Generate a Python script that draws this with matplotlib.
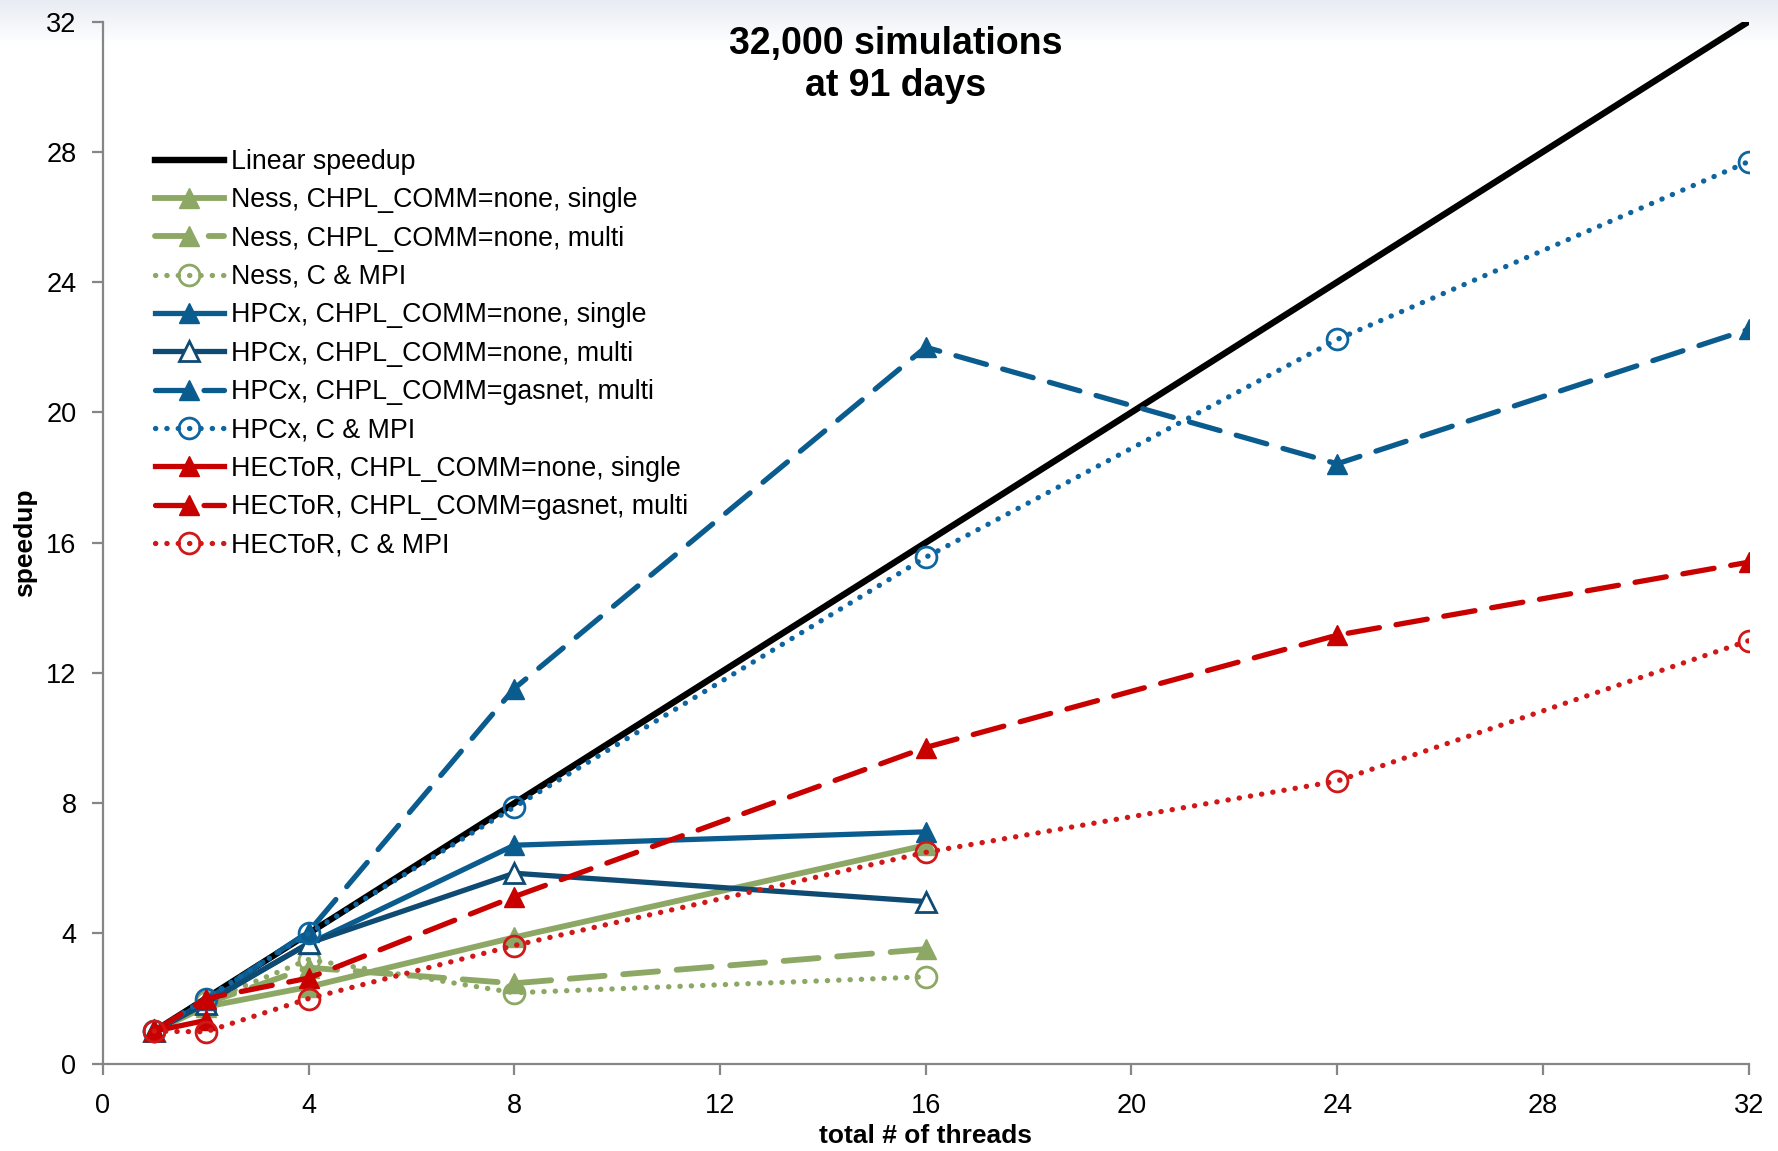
import numpy as np
import matplotlib
matplotlib.use("Agg")
import matplotlib.pyplot as plt

# data
threads_short = [1, 2, 4, 8, 16]
threads_long = [1, 2, 4, 8, 16, 24, 32]
threads_hector_single = [1, 2]
linear = [1, 32]

ness_single = [1, 1.75, 2.36, 3.88, 6.71]
ness_multi = [1, 1.85, 2.95, 2.47, 3.52]
ness_mpi = [1, 1.9, 3.2, 2.18, 2.67]

hpcx_single = [1, 1.9, 3.68, 6.71, 7.12]
hpcx_multi = [1, 1.85, 3.7, 5.85, 4.98]
hpcx_gasnet = [1, 1.95, 4.05, 11.52, 22.0, 18.42, 22.55]
hpcx_mpi = [1, 2.0, 4.0, 7.88, 15.55, 22.24, 27.7]

hector_single = [1, 1.33]
hector_gasnet = [1, 2.0, 2.63, 5.13, 9.71, 13.16, 15.4]
hector_mpi = [1, 0.98, 2.0, 3.63, 6.49, 8.68, 12.99]

plt.rcParams['font.family'] = ['Liberation Sans', 'DejaVu Sans']

green = '#8DA865'
blue = '#0B5C8E'
navy = '#0E4A72'
blue_dot = '#0F65A0'
red = '#C80000'
red_dot = '#D01818'

lw = 3.8
dash = (0, (6.0, 3.2))
dot = (0, (0.05, 2.1))
tri = 15
circ = 15

fig = plt.figure(figsize=(17.78, 11.51), dpi=100)

# faint bluish band along the top edge
band = fig.add_axes([0, 1 - 45 / 1151, 1, 45 / 1151], zorder=-5)
grad = np.linspace(0, 1, 50).reshape(-1, 1)
band.imshow(grad, aspect='auto', cmap=matplotlib.colors.LinearSegmentedColormap.from_list(
    'bg', ['#e8ecf3', '#ffffff']), extent=[0, 1, 0, 1])
band.axis('off')

ax = fig.add_axes([0.0578, 0.0758, 0.9257, 0.9055])
ax.set_facecolor('none')

ax.plot(linear, linear, color='black', lw=4.6, label='Linear speedup')

ax.plot(threads_short, ness_single, color=green, lw=lw + 0.4, marker='^', ms=tri,
        label='Ness, CHPL_COMM=none, single')
ax.plot(threads_short, ness_multi, color=green, lw=lw + 0.4, ls=dash, marker='^', ms=tri,
        dash_capstyle='round', label='Ness, CHPL_COMM=none, multi')
ax.plot(threads_short, ness_mpi, color=green, lw=lw, ls=dot, marker='o', ms=circ,
        mfc='none', mew=2, dash_capstyle='round', label='Ness, C & MPI')

ax.plot(threads_short, hpcx_single, color=blue, lw=lw, marker='^', ms=tri,
        label='HPCx, CHPL_COMM=none, single')
ax.plot(threads_short, hpcx_multi, color=navy, lw=lw, marker='^', ms=tri,
        mfc='white', mew=2, label='HPCx, CHPL_COMM=none, multi')
ax.plot(threads_long, hpcx_gasnet, color=blue, lw=lw, ls=dash, marker='^', ms=tri,
        dash_capstyle='round', label='HPCx, CHPL_COMM=gasnet, multi')
ax.plot(threads_long, hpcx_mpi, color=blue_dot, lw=lw, ls=dot, marker='o', ms=circ,
        mfc='none', mew=2, dash_capstyle='round', label='HPCx, C & MPI')

ax.plot(threads_hector_single, hector_single, color=red, lw=lw, marker='^', ms=tri,
        label='HECToR, CHPL_COMM=none, single')
ax.plot(threads_long, hector_gasnet, color=red, lw=lw, ls=dash, marker='^', ms=tri,
        dash_capstyle='round', label='HECToR, CHPL_COMM=gasnet, multi')
ax.plot(threads_long, hector_mpi, color=red_dot, lw=lw, ls=dot, marker='o', ms=circ,
        mfc='none', mew=2, dash_capstyle='round', label='HECToR, C & MPI')

ax.set_xlim(0, 32)
ax.set_ylim(0, 32)
ax.set_xticks(np.arange(0, 33, 4))
ax.set_yticks(np.arange(0, 33, 4))
for s in ['top', 'right']:
    ax.spines[s].set_visible(False)
for s in ['left', 'bottom']:
    ax.spines[s].set_color('#868686')
    ax.spines[s].set_linewidth(1.6)
ax.tick_params(colors='#868686', labelcolor='black', labelsize=19.5,
               length=8, width=1.6, direction='out')
ax.tick_params(axis='x', pad=13)
ax.tick_params(axis='y', pad=11)

ax.set_xlabel('total # of threads', fontsize=19, fontweight='bold', va='center')
ax.set_ylabel('speedup', fontsize=19, fontweight='bold', va='center')
ax.xaxis.set_label_coords(0.5, -0.0694)
ax.yaxis.set_label_coords(-0.047, 0.5)

ax.text(15.42, 30.66, '32,000 simulations\nat 91 days', ha='center', va='center',
        fontsize=27, fontweight='bold', linespacing=1.22,
        family=['Liberation Sans Narrow', 'Liberation Sans', 'DejaVu Sans'])

leg = ax.legend(loc='upper left', bbox_to_anchor=(0.025, 0.888), frameon=False,
                fontsize=19.3, handlelength=2.6, handletextpad=0.26,
                labelspacing=0.46, borderaxespad=0)

fig.savefig('out.png', dpi=100)
